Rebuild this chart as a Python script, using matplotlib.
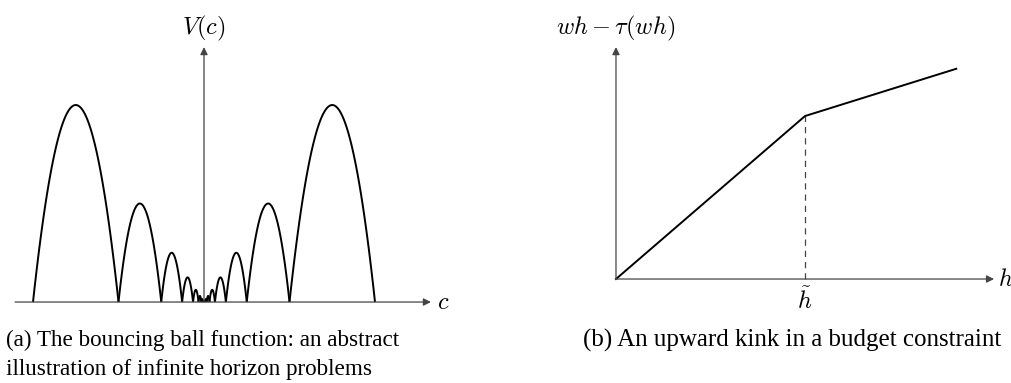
import numpy as np
import matplotlib
matplotlib.use("Agg")
import matplotlib.pyplot as plt

plt.rcParams['mathtext.fontset'] = 'cm'

# bouncing ball: distance of each arch edge from the centre and the arch heights
arch_edges = [1.0, 0.50, 0.25, 0.128, 0.064, 0.032, 0.016, 0.008, 0.004]
arch_heights = [1.0, 0.50, 0.25, 0.125, 0.062, 0.031, 0.016, 0.008]

# budget constraint: hours and net income at origin, kink and end
h_pts = [0.0, 1.0, 1.80]
net_pts = [0.0, 1.0, 1.29]
h_kink = 1.0

caption_a = ["(a) The bouncing ball function: an abstract",
             "illustration of infinite horizon problems"]
caption_b = "(b) An upward kink in a budget constraint"

W, H = 1012, 383
fig = plt.figure(figsize=(W / 100, H / 100), dpi=100)

axis_col = "#444444"
arrow = dict(arrowstyle="-|>", color=axis_col, lw=0.9, mutation_scale=11,
             shrinkA=0, shrinkB=0)
lab = 17.5

# ---- left panel ----
ax1 = fig.add_axes([0, 0, 500 / W, 1])
ax1.set_xlim(-1.193, 1.731)
ax1.set_ylim(-0.411, 1.533)
ax1.axis("off")

ax1.annotate("", xy=(1.327, 0), xytext=(-1.105, 0), arrowprops=arrow)
ax1.annotate("", xy=(0, 1.294), xytext=(0, 0), arrowprops=arrow)
ax1.text(1.40, 0, "$c$", fontsize=lab, ha="center", va="center")
ax1.text(0, 1.39, "$V(c)$", fontsize=lab, ha="center", va="center")

for side in (-1, 1):
    for i, hgt in enumerate(arch_heights):
        a, b = side * arch_edges[i], side * arch_edges[i + 1]
        x = np.linspace(a, b, 80)
        m, half = (a + b) / 2, abs(b - a) / 2
        y = hgt * (1 - ((x - m) / half) ** 2)
        ax1.plot(x, y, color="black", lw=1.4, solid_capstyle="butt")

# ---- right panel ----
ax2 = fig.add_axes([540 / W, 0, 472 / W, 1])
ax2.set_xlim(-0.402, 2.095)
ax2.set_ylim(-0.638, 1.712)
ax2.axis("off")

ax2.annotate("", xy=(2.0, 0), xytext=(0, 0), arrowprops=arrow)
ax2.annotate("", xy=(0, 1.423), xytext=(0, 0), arrowprops=arrow)
ax2.text(2.06, 0, "$h$", fontsize=lab, ha="center", va="center")
ax2.text(0, 1.54, r"$wh - \tau(wh)$", fontsize=lab, ha="center", va="center")
ax2.text(h_kink, -0.13, r"$\tilde{h}$", fontsize=lab, ha="center", va="center")

ax2.plot([h_kink, h_kink], [0, net_pts[1]], color=axis_col, lw=0.9,
         linestyle=(0, (5, 4)))
ax2.plot(h_pts, net_pts, color="black", lw=1.4)

# ---- captions ----
cap_font = dict(family="Liberation Serif", va="center", ha="left")
fig.text(6 / W, 1 - 340 / H, caption_a[0], fontsize=16.7, **cap_font)
fig.text(6 / W, 1 - 370 / H, caption_a[1], fontsize=16.7, **cap_font)
fig.text(583 / W, 1 - 340 / H, caption_b, fontsize=18, **cap_font)

fig.savefig("out.png", dpi=100)
